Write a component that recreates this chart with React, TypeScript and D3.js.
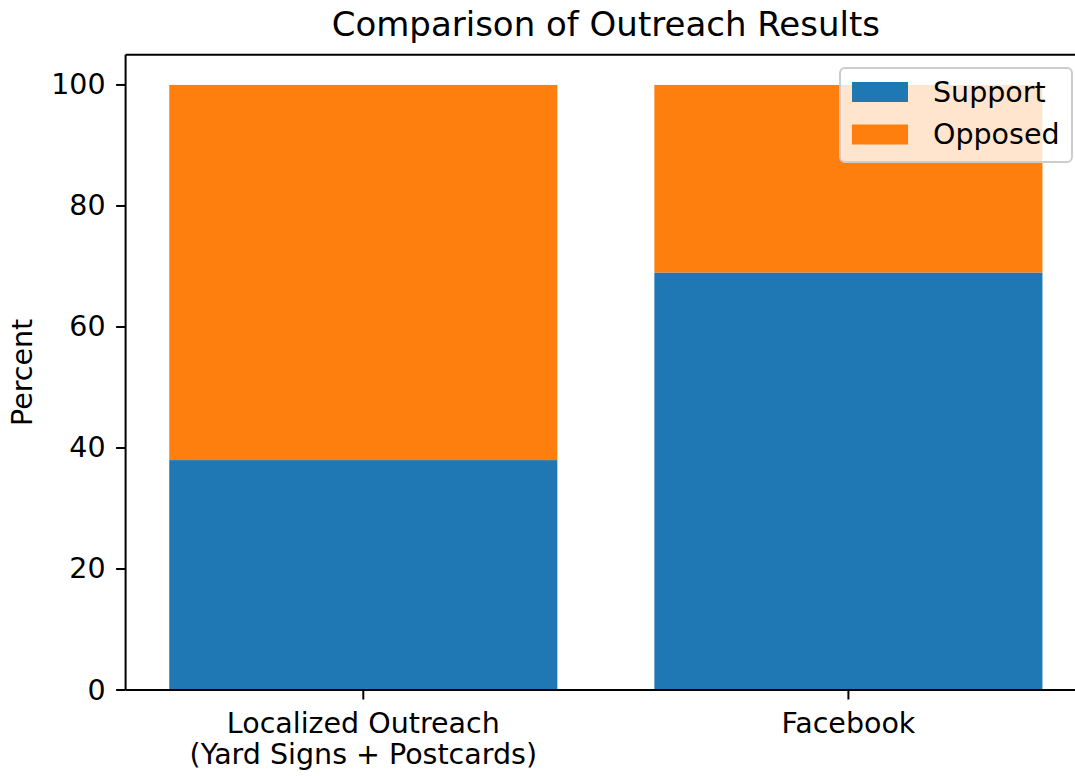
import React from "react";
import * as d3 from "d3";

const categories = ["Localized Outreach\n(Yard Signs + Postcards)", "Facebook"];
const supportValues = [38, 69];
const opposedValues = [62, 31];
const yTicks = [0, 20, 40, 60, 80, 100];
const seriesNames = ["Support", "Opposed"];
const seriesColors = ["#1f77b4", "#ff7f0e"];

const W = 1075;
const H = 776;
const FONT = "DejaVu Sans, sans-serif";

export default function App() {
  const left = 125.6;
  const right = 1086.1;
  const top = 54.7;
  const bottom = 690;

  const x = d3.scaleLinear().domain([-0.49, 1.49]).range([left, right]);
  const y = d3.scaleLinear().domain([0, 105]).range([bottom, top]);
  const barW = 0.8;

  const stacks = categories.map((c, i) => ({
    i,
    parts: [
      { y0: 0, y1: supportValues[i], color: seriesColors[0] },
      { y0: supportValues[i], y1: supportValues[i] + opposedValues[i], color: seriesColors[1] },
    ],
  }));

  const fs = 28.5;

  return (
    <svg
      width={W}
      height={H}
      style={{ position: "absolute", left: 0, top: 0, background: "#fff", display: "block" }}
      fontFamily={FONT}
    >
      <rect x={0} y={0} width={W} height={H} fill="#fff" />
      {stacks.map((s) =>
        s.parts.map((p, k) => (
          <rect
            key={`${s.i}-${k}`}
            x={x(s.i - barW / 2)}
            width={x(s.i + barW / 2) - x(s.i - barW / 2)}
            y={y(p.y1)}
            height={y(p.y0) - y(p.y1)}
            fill={p.color}
          />
        ))
      )}
      {/* spines */}
      <line x1={left} x2={left} y1={top} y2={bottom} stroke="#000" strokeWidth={2} />
      <line x1={left} x2={right} y1={bottom} y2={bottom} stroke="#000" strokeWidth={2} />
      <line x1={left} x2={right} y1={top} y2={top} stroke="#000" strokeWidth={2} />
      {/* y ticks */}
      {yTicks.map((t) => (
        <g key={t}>
          <line x1={left - 9.5} x2={left} y1={y(t)} y2={y(t)} stroke="#000" strokeWidth={2} />
          <text
            x={left - 20}
            y={y(t)}
            textAnchor="end"
            dominantBaseline="central"
            fontSize={fs}
            fill="#000"
          >
            {t}
          </text>
        </g>
      ))}
      {/* x ticks */}
      {categories.map((c, i) => (
        <g key={c}>
          <line x1={x(i)} x2={x(i)} y1={bottom} y2={bottom + 9.5} stroke="#000" strokeWidth={2} />
          {c.split("\n").map((line, j) => (
            <text
              key={j}
              x={x(i)}
              y={733 + j * 30.5}
              textAnchor="middle"
              fontSize={fs}
              fill="#000"
            >
              {line}
            </text>
          ))}
        </g>
      ))}
      {/* y label */}
      <text
        transform={`translate(32, ${(top + bottom) / 2}) rotate(-90)`}
        textAnchor="middle"
        fontSize={fs}
        fill="#000"
      >
        Percent
      </text>
      {/* title */}
      <text x={(left + right) / 2} y={36} textAnchor="middle" fontSize={34} fill="#000">
        Comparison of Outreach Results
      </text>
      {/* legend */}
      <g>
        <rect
          x={840}
          y={68}
          width={232}
          height={94}
          rx={5}
          fill="#fff"
          fillOpacity={0.8}
          stroke="#cccccc"
          strokeWidth={2}
        />
        {seriesNames.map((n, k) => (
          <g key={n}>
            <rect x={852} y={82 + k * 42.5} width={56} height={20} fill={seriesColors[k]} />
            <text x={933} y={92 + k * 42.5} dominantBaseline="central" fontSize={fs} fill="#000">
              {n}
            </text>
          </g>
        ))}
      </g>
    </svg>
  );
}
